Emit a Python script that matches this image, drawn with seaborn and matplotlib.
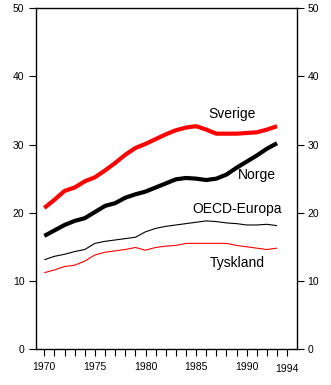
import numpy as np
import pandas as pd
import matplotlib
matplotlib.use("Agg")
import matplotlib.pyplot as plt
import matplotlib.transforms as mtransforms
import seaborn as sns

years = list(range(1970, 1994))
sverige = [20.7, 21.9, 23.2, 23.7, 24.6, 25.2, 26.2, 27.3, 28.5, 29.5, 30.1, 30.8,
           31.5, 32.1, 32.5, 32.7, 32.2, 31.6, 31.6, 31.6, 31.7, 31.8, 32.2, 32.7]
norge = [16.6, 17.4, 18.2, 18.8, 19.2, 20.1, 21.0, 21.4, 22.2, 22.7, 23.1, 23.7,
         24.3, 24.9, 25.1, 25.0, 24.8, 25.0, 25.6, 26.6, 27.5, 28.4, 29.4, 30.2]
oecd = [13.1, 13.6, 13.9, 14.3, 14.6, 15.5, 15.8, 16.0, 16.2, 16.4, 17.2, 17.7,
        18.0, 18.2, 18.4, 18.6, 18.8, 18.7, 18.5, 18.4, 18.2, 18.2, 18.3, 18.1]
tyskland = [11.2, 11.6, 12.1, 12.3, 12.9, 13.8, 14.2, 14.4, 14.6, 14.9, 14.5, 14.9,
            15.1, 15.2, 15.5, 15.5, 15.5, 15.5, 15.5, 15.2, 15.0, 14.8, 14.6, 14.8]
series_names = ["Sverige", "Norge", "OECD-Europa", "Tyskland"]
xtick_labels = ["1970", "1975", "1980", "1985", "1990", "1994"]
xtick_vals = [1970, 1975, 1980, 1985, 1990, 1994]
yticks = [0, 10, 20, 30, 40, 50]

sns.set_style("white")
plt.rcParams['font.family'] = ['Liberation Sans', 'DejaVu Sans']

fig = plt.figure(figsize=(3.31, 3.85), dpi=100)
ax = fig.add_axes([35.5/331, 1 - 349/385, (296.5-35.5)/331, (349-8.3)/385])

styles = [
    (sverige, "#ff0000", 3.0),
    (norge, "#000000", 3.0),
    (oecd, "#000000", 0.8),
    (tyskland, "#ff0000", 0.8),
]
for vals, col, lw in styles:
    sns.lineplot(x=years, y=vals, color=col, linewidth=lw, ax=ax,
                 solid_capstyle="butt")

labels_pos = {
    "Sverige": (1988.5, 34.5),
    "Norge": (1991.0, 25.5),
    "OECD-Europa": (1989.1, 20.6),
    "Tyskland": (1989.1, 12.6),
}
for name in series_names:
    x, y = labels_pos[name]
    ax.text(x, y, name, ha="center", va="center", fontsize=10, color="black")

ax.set_xlim(1969.13, 1994.92)
ax.set_ylim(0, 50)
ax.set_yticks(yticks)
ax.set_yticklabels([str(v) for v in yticks])
ax.set_xticks(xtick_vals)
ax.set_xticklabels(xtick_labels)
ax.set_xticks(list(range(1970, 1995)), minor=True)
ax.tick_params(axis="y", which="both", direction="out", length=5, width=0.8,
               left=True, right=True, labelleft=True, labelright=True,
               labelsize=7.5, pad=3, colors="black")
ax.tick_params(axis="x", which="both", direction="out", length=5, width=0.8,
               bottom=True, labelsize=7.5, pad=4, colors="black")
for sp in ax.spines.values():
    sp.set_visible(True)
    sp.set_color("black")
    sp.set_linewidth(1.0)
ax.set_xlabel("")
ax.set_ylabel("")

# last x label sits slightly lower in the original
last = ax.get_xticklabels()[-1]
last.set_transform(last.get_transform() +
                   mtransforms.ScaledTranslation(0, -3/100, fig.dpi_scale_trans))

fig.savefig("out.png", dpi=100)
